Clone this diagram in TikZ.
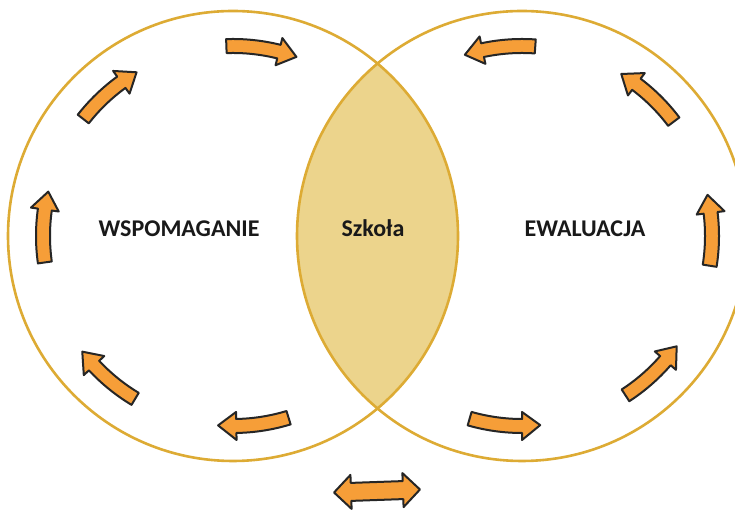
\documentclass[tikz,border=0pt]{standalone}
\usepackage{fontspec}
\setmainfont{Carlito}
\usepackage{tikz}
\usetikzlibrary{shapes,arrows.meta}

\definecolor{ringgold}{RGB}{221,171,52}
\definecolor{lensfill}{RGB}{236,212,140}
\definecolor{arroworange}{RGB}{246,158,56}
\definecolor{sketch}{RGB}{38,38,38}

\begin{document}
\begin{tikzpicture}[x=1pt, y=1pt,
	ring/.style={circle, draw=ringgold, line width=2.6pt, minimum size=450pt, inner sep=0},
	caption/.style={font=\fontsize{24}{28}\selectfont\bfseries, text=black!90, anchor=base, inner sep=0},
	flowarrow/.style={fill=arroworange, draw=sketch, line width=2pt, line join=round},
	ccw/.pic={\path[flowarrow] (0:197) arc[start angle=0, end angle=16, radius=197] -- (16:204) -- (21.5:190)
		-- (16:176) -- (16:183) arc[start angle=16, end angle=0, radius=183] -- cycle;},
	cw/.pic={\path[flowarrow, yscale=-1] (0:197) arc[start angle=0, end angle=16, radius=197] -- (16:204) -- (21.5:190)
		-- (16:176) -- (16:183) arc[start angle=16, end angle=0, radius=183] -- cycle;}
]
\useasboundingbox[fill=white] (0,0) rectangle (735,518);

% shared part of both circles
\begin{scope}
\clip (233,282) circle (225);
\fill[lensfill] (522,282) circle (225);
\end{scope}

\node[ring] (wspom) at (233,282) {};
\node[ring] (ewal) at (522,282) {};

\node[caption] (wspomtext) at (179,281) {WSPOMAGANIE};
\node[caption] (szkola) at (373,281) {Szkoła};
\node[caption] (ewaltext) at (585,281) {EWALUACJA};

% arrows round the left circle
\pic[rotate=92] at (wspom.center) {cw};
\pic[rotate=142] at (wspom.center) {cw};
\pic[rotate=188] at (wspom.center) {cw};
\pic[rotate=239] at (wspom.center) {cw};
\pic[rotate=287] at (wspom.center) {cw};

% arrows round the right circle
\pic[rotate=-106] at (ewal.center) {ccw};
\pic[rotate=-57] at (ewal.center) {ccw};
\pic[rotate=-9] at (ewal.center) {ccw};
\pic[rotate=37] at (ewal.center) {ccw};
\pic[rotate=86] at (ewal.center) {ccw};

\node[double arrow, flowarrow, minimum height=86pt, inner xsep=0pt, inner ysep=8pt,
	double arrow head extend=8pt, rotate=2] (link) at (377,27) {};
\end{tikzpicture}
\end{document}
